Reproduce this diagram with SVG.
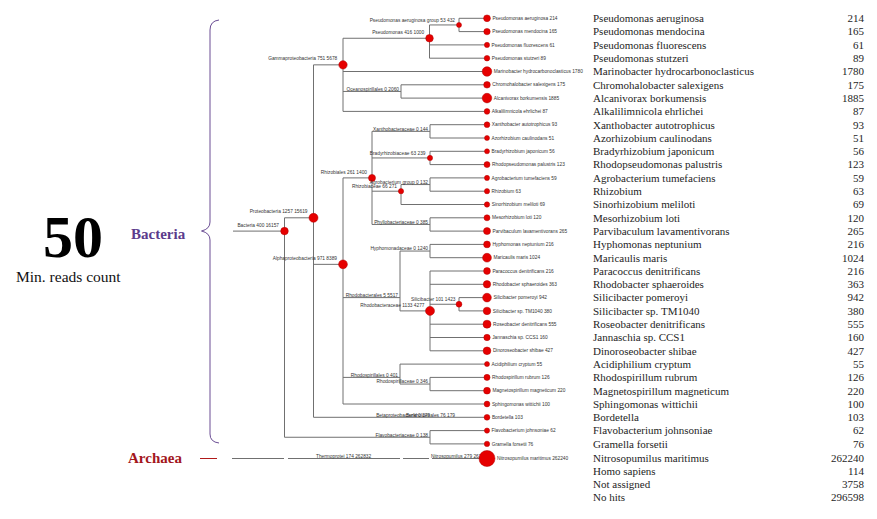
<svg xmlns="http://www.w3.org/2000/svg" width="877" height="519" viewBox="0 0 877 519">
<style>
.e{stroke:#707070;stroke-width:1;fill:none}
.n{fill:#e60000;stroke:#b00000;stroke-width:0.5}
.t{font-family:"Liberation Sans",Arial,sans-serif;font-size:4.8px;fill:#333}
.te{font-family:"Liberation Sans",Arial,sans-serif;font-size:4.8px;fill:#333;text-anchor:end}
.l{font-family:"Liberation Serif","Times New Roman",serif;font-size:11px;fill:#1e1e1e}
.c{font-family:"Liberation Serif","Times New Roman",serif;font-size:11px;fill:#1e1e1e;text-anchor:end}
</style>
<rect width="877" height="519" fill="#fff"/>
<g id="legend">
<text x="43" y="257" font-family="Liberation Serif,serif" font-weight="bold" font-size="60" fill="#000">50</text>
<text x="16" y="282" font-family="Liberation Serif,serif" font-size="15.5" fill="#111">Min. reads count</text>
<text x="131" y="239" font-family="Liberation Serif,serif" font-weight="bold" font-size="15" fill="#5b3b8c">Bacteria</text>
<text x="128" y="463" font-family="Liberation Serif,serif" font-weight="bold" font-size="15" fill="#a3161c">Archaea</text>
<path d="M219 20 Q210 21 210 30 V222 Q210 229 201.5 231 Q210 233 210 240 V434 Q210 442 219 443" fill="none" stroke="#6a4c93" stroke-width="1"/>
<line x1="200" y1="458.5" x2="217" y2="458.5" stroke="#b01a1a" stroke-width="1"/>
</g>
<g id="connectors" class="e">
<path d="M233 231.1H284.5M284.5 217.8V437.25M284.5 217.8H313.5M284.5 437.25H430M430 430.6V443.9M430 430.6H487M430 443.9H487M313.5 64.85V417.3M313.5 64.85H343M313.5 264.35H343M313.5 417.3H487M343 38.25V111.4M343 38.25H429.5M343 71.5H487M343 91.45H401M343 111.4H487M429.5 24.95V58.2M429.5 24.95H459M429.5 44.9H487M429.5 58.2H487M459 18.3V31.6M459 18.3H487M459 31.6H487M401 84.8V98.1M401 84.8H487M401 98.1H487M343 177.9V404M343 177.9H372M343 297.6H400M343 377.4H400M343 404H487M372 131.35V224.45M372 131.35H430M372 157.95H430M372 224.45H430M372 191.2H401M430 124.7V138M430 124.7H487M430 138H487M430 151.3V164.6M430 151.3H487M430 164.6H487M401 184.55V204.5M401 184.55H430M401 204.5H487M430 177.9V191.2M430 177.9H487M430 191.2H487M430 217.8V231.1M430 217.8H487M430 231.1H487M400 251.05V310.9M400 251.05H430M400 310.9H430M430 244.4V257.7M430 244.4H487M430 257.7H487M430 271V350.8M430 271H487M430 284.3H487M430 324.2H487M430 337.5H487M430 350.8H487M430 304.25H459M459 297.6V310.9M459 297.6H487M459 310.9H487M400 364.1V384.05M400 364.1H487M400 384.05H430M430 377.4V390.7M430 377.4H487M430 390.7H487"/>
<path d="M232 458.5H284M288 458.5H400M403 458.5H429M432 458.5H480"/>
</g>
<g id="n-bacteria"><circle class="n" cx="284.5" cy="231.1" r="3.8"/><text class="te" x="279" y="227">Bacteria 400 16157</text></g>
<g id="n-proteobacteria"><circle class="n" cx="313.5" cy="217.8" r="4.5"/><text class="te" x="307.5" y="213">Proteobacteria 1257 15619</text></g>
<g id="n-gamma"><circle class="n" cx="343" cy="64.85" r="4.2"/><text class="te" x="337.3" y="60.4">Gammaproteobacteria 751 5678</text></g>
<g id="n-pseudomonas"><circle class="n" cx="429.5" cy="38.25" r="3.8"/><text class="te" x="424.2" y="33.5">Pseudomonas 416 1000</text></g>
<g id="n-aeruginosa-group"><circle class="n" cx="459" cy="24.95" r="2.5"/><text class="te" x="455" y="22">Pseudomonas aeruginosa group 53 432</text></g>
<g id="n-oceanospirillales"><text class="te" x="399" y="90.8">Oceanospirillales 0 2060</text></g>
<g id="n-alpha"><circle class="n" cx="343" cy="264.35" r="4.4"/><text class="te" x="337" y="259.6">Alphaproteobacteria 971 8389</text></g>
<g id="n-rhizobiales"><circle class="n" cx="372" cy="177.9" r="3.5"/><text class="te" x="367" y="174">Rhizobiales 261 1400</text></g>
<g id="n-xanthobacteraceae"><text class="te" x="428" y="130.7">Xanthobacteraceae 0 144</text></g>
<g id="n-bradyrhizobiaceae"><circle class="n" cx="430" cy="157.95" r="2.6"/><text class="te" x="425.5" y="155">Bradyrhizobiaceae 63 239</text></g>
<g id="n-agrobacterium-group"><text class="te" x="428" y="183.9">Agrobacterium group 0 132</text></g>
<g id="n-rhizobiaceae"><circle class="n" cx="401" cy="191.2" r="2.6"/><text class="te" x="397" y="188.4">Rhizobiaceae 66 271</text></g>
<g id="n-phyllobacteriaceae"><text class="te" x="428" y="223.8">Phyllobacteriaceae 0 385</text></g>
<g id="n-rhodobacterales"><text class="te" x="398" y="296.9">Rhodobacterales 5 5517</text></g>
<g id="n-hyphomonadaceae"><text class="te" x="428" y="250.4">Hyphomonadaceae 0 1240</text></g>
<g id="n-rhodobacteraceae"><circle class="n" cx="430" cy="310.9" r="4.5"/><text class="te" x="424.5" y="306.6">Rhodobacteraceae 1133 4277</text></g>
<g id="n-silicibacter"><circle class="n" cx="459" cy="304.25" r="2.9"/><text class="te" x="455.5" y="301">Silicibacter 101 1423</text></g>
<g id="n-rhodospirillales"><text class="te" x="398" y="376.7">Rhodospirillales 0 401</text></g>
<g id="n-rhodospirillaceae"><text class="te" x="428" y="383.4">Rhodospirillaceae 0 346</text></g>
<g id="n-betaproteobacteria"><text class="te" x="430" y="416.6">Betaproteobacteria 0 179</text><text class="te" x="455" y="416.6">Burkholderiales 76 179</text></g>
<g id="n-flavobacteriaceae"><text class="te" x="428" y="436.6">Flavobacteriaceae 0 138</text></g>
<g id="n-thermoprotei"><text class="t" x="316" y="458">Thermoprotei 174 262832</text></g>
<g id="n-nitrosopumilus"><text class="t" x="431" y="458">Nitrosopumilus 279 262519</text></g>
<g id="leaves">
<g id="l0"><circle class="n" cx="487" cy="18.3" r="3.4"/><text class="t" x="492.4" y="19.9">Pseudomonas aeruginosa 214</text></g>
<g id="l1"><circle class="n" cx="487" cy="31.6" r="3.2"/><text class="t" x="492.2" y="33.2">Pseudomonas mendocina 165</text></g>
<g id="l2"><circle class="n" cx="487" cy="44.9" r="2.6"/><text class="t" x="491.6" y="46.5">Pseudomonas fluorescens 61</text></g>
<g id="l3"><circle class="n" cx="487" cy="58.2" r="2.8"/><text class="t" x="491.8" y="59.8">Pseudomonas stutzeri 89</text></g>
<g id="l4"><circle class="n" cx="487" cy="71.5" r="4.8"/><text class="t" x="493.8" y="73.1">Marinobacter hydrocarbonoclasticus 1780</text></g>
<g id="l5"><circle class="n" cx="487" cy="84.8" r="3.3"/><text class="t" x="492.3" y="86.4">Chromohalobacter salexigens 175</text></g>
<g id="l6"><circle class="n" cx="487" cy="98.1" r="4.8"/><text class="t" x="493.8" y="99.7">Alcanivorax borkumensis 1885</text></g>
<g id="l7"><circle class="n" cx="487" cy="111.4" r="2.8"/><text class="t" x="491.8" y="113">Alkalilimnicola ehrlichei 87</text></g>
<g id="l8"><circle class="n" cx="487" cy="124.7" r="2.85"/><text class="t" x="491.8" y="126.3">Xanthobacter autotrophicus 93</text></g>
<g id="l9"><circle class="n" cx="487" cy="138" r="2.5"/><text class="t" x="491.5" y="139.6">Azorhizobium caulinodans 51</text></g>
<g id="l10"><circle class="n" cx="487" cy="151.3" r="2.5"/><text class="t" x="491.5" y="152.9">Bradyrhizobium japonicum 56</text></g>
<g id="l11"><circle class="n" cx="487" cy="164.6" r="3"/><text class="t" x="492" y="166.2">Rhodopseudomonas palustris 123</text></g>
<g id="l12"><circle class="n" cx="487" cy="177.9" r="2.56"/><text class="t" x="491.6" y="179.5">Agrobacterium tumefaciens 59</text></g>
<g id="l13"><circle class="n" cx="487" cy="191.2" r="2.6"/><text class="t" x="491.6" y="192.8">Rhizobium 63</text></g>
<g id="l14"><circle class="n" cx="487" cy="204.5" r="2.66"/><text class="t" x="491.7" y="206.1">Sinorhizobium meliloti 69</text></g>
<g id="l15"><circle class="n" cx="487" cy="217.8" r="3"/><text class="t" x="492" y="219.4">Mesorhizobium loti 120</text></g>
<g id="l16"><circle class="n" cx="487" cy="231.1" r="3.5"/><text class="t" x="492.5" y="232.7">Parvibaculum lavamentivorans 265</text></g>
<g id="l17"><circle class="n" cx="487" cy="244.4" r="3.4"/><text class="t" x="492.4" y="246">Hyphomonas neptunium 216</text></g>
<g id="l18"><circle class="n" cx="487" cy="257.7" r="4.4"/><text class="t" x="493.4" y="259.3">Maricaulis maris 1024</text></g>
<g id="l19"><circle class="n" cx="487" cy="271" r="3.4"/><text class="t" x="492.4" y="272.6">Paracoccus denitrificans 216</text></g>
<g id="l20"><circle class="n" cx="487" cy="284.3" r="3.7"/><text class="t" x="492.7" y="285.9">Rhodobacter sphaeroides 363</text></g>
<g id="l21"><circle class="n" cx="487" cy="297.6" r="4.35"/><text class="t" x="493.4" y="299.2">Silicibacter pomeroyi 942</text></g>
<g id="l22"><circle class="n" cx="487" cy="310.9" r="3.75"/><text class="t" x="492.8" y="312.5">Silicibacter sp. TM1040 380</text></g>
<g id="l23"><circle class="n" cx="487" cy="324.2" r="4"/><text class="t" x="493" y="325.8">Roseobacter denitrificans 555</text></g>
<g id="l24"><circle class="n" cx="487" cy="337.5" r="3.2"/><text class="t" x="492.2" y="339.1">Jannaschia sp. CCS1 160</text></g>
<g id="l25"><circle class="n" cx="487" cy="350.8" r="3.85"/><text class="t" x="492.9" y="352.4">Dinoroseobacter shibae 427</text></g>
<g id="l26"><circle class="n" cx="487" cy="364.1" r="2.5"/><text class="t" x="491.5" y="365.7">Acidiphilium cryptum 55</text></g>
<g id="l27"><circle class="n" cx="487" cy="377.4" r="3.05"/><text class="t" x="492" y="379">Rhodospirillum rubrum 126</text></g>
<g id="l28"><circle class="n" cx="487" cy="390.7" r="3.4"/><text class="t" x="492.4" y="392.3">Magnetospirillum magneticum 220</text></g>
<g id="l29"><circle class="n" cx="487" cy="404" r="2.9"/><text class="t" x="491.9" y="405.6">Sphingomonas wittichii 100</text></g>
<g id="l30"><circle class="n" cx="487" cy="417.3" r="2.9"/><text class="t" x="491.9" y="418.9">Bordetella 103</text></g>
<g id="l31"><circle class="n" cx="487" cy="430.6" r="2.6"/><text class="t" x="491.6" y="432.2">Flavobacterium johnsoniae 62</text></g>
<g id="l32"><circle class="n" cx="487" cy="443.9" r="2.7"/><text class="t" x="491.7" y="445.5">Gramella forsetii 76</text></g>
<g id="l33"><circle class="n" cx="487" cy="458.5" r="8"/><text class="t" x="497" y="460.1">Nitrosopumilus maritimus 262240</text></g>
</g>
<g id="list">
<text class="l" x="593" y="22.1">Pseudomonas aeruginosa</text><text class="c" x="864" y="22.1">214</text>
<text class="l" x="593" y="35.4">Pseudomonas mendocina</text><text class="c" x="864" y="35.4">165</text>
<text class="l" x="593" y="48.7">Pseudomonas fluorescens</text><text class="c" x="864" y="48.7">61</text>
<text class="l" x="593" y="62">Pseudomonas stutzeri</text><text class="c" x="864" y="62">89</text>
<text class="l" x="593" y="75.3">Marinobacter hydrocarbonoclasticus</text><text class="c" x="864" y="75.3">1780</text>
<text class="l" x="593" y="88.6">Chromohalobacter salexigens</text><text class="c" x="864" y="88.6">175</text>
<text class="l" x="593" y="101.9">Alcanivorax borkumensis</text><text class="c" x="864" y="101.9">1885</text>
<text class="l" x="593" y="115.2">Alkalilimnicola ehrlichei</text><text class="c" x="864" y="115.2">87</text>
<text class="l" x="593" y="128.5">Xanthobacter autotrophicus</text><text class="c" x="864" y="128.5">93</text>
<text class="l" x="593" y="141.8">Azorhizobium caulinodans</text><text class="c" x="864" y="141.8">51</text>
<text class="l" x="593" y="155.1">Bradyrhizobium japonicum</text><text class="c" x="864" y="155.1">56</text>
<text class="l" x="593" y="168.4">Rhodopseudomonas palustris</text><text class="c" x="864" y="168.4">123</text>
<text class="l" x="593" y="181.7">Agrobacterium tumefaciens</text><text class="c" x="864" y="181.7">59</text>
<text class="l" x="593" y="195">Rhizobium</text><text class="c" x="864" y="195">63</text>
<text class="l" x="593" y="208.3">Sinorhizobium meliloti</text><text class="c" x="864" y="208.3">69</text>
<text class="l" x="593" y="221.6">Mesorhizobium loti</text><text class="c" x="864" y="221.6">120</text>
<text class="l" x="593" y="234.9">Parvibaculum lavamentivorans</text><text class="c" x="864" y="234.9">265</text>
<text class="l" x="593" y="248.2">Hyphomonas neptunium</text><text class="c" x="864" y="248.2">216</text>
<text class="l" x="593" y="261.5">Maricaulis maris</text><text class="c" x="864" y="261.5">1024</text>
<text class="l" x="593" y="274.8">Paracoccus denitrificans</text><text class="c" x="864" y="274.8">216</text>
<text class="l" x="593" y="288.1">Rhodobacter sphaeroides</text><text class="c" x="864" y="288.1">363</text>
<text class="l" x="593" y="301.4">Silicibacter pomeroyi</text><text class="c" x="864" y="301.4">942</text>
<text class="l" x="593" y="314.7">Silicibacter sp. TM1040</text><text class="c" x="864" y="314.7">380</text>
<text class="l" x="593" y="328">Roseobacter denitrificans</text><text class="c" x="864" y="328">555</text>
<text class="l" x="593" y="341.3">Jannaschia sp. CCS1</text><text class="c" x="864" y="341.3">160</text>
<text class="l" x="593" y="354.6">Dinoroseobacter shibae</text><text class="c" x="864" y="354.6">427</text>
<text class="l" x="593" y="367.9">Acidiphilium cryptum</text><text class="c" x="864" y="367.9">55</text>
<text class="l" x="593" y="381.2">Rhodospirillum rubrum</text><text class="c" x="864" y="381.2">126</text>
<text class="l" x="593" y="394.5">Magnetospirillum magneticum</text><text class="c" x="864" y="394.5">220</text>
<text class="l" x="593" y="407.8">Sphingomonas wittichii</text><text class="c" x="864" y="407.8">100</text>
<text class="l" x="593" y="421.1">Bordetella</text><text class="c" x="864" y="421.1">103</text>
<text class="l" x="593" y="434.4">Flavobacterium johnsoniae</text><text class="c" x="864" y="434.4">62</text>
<text class="l" x="593" y="447.7">Gramella forsetii</text><text class="c" x="864" y="447.7">76</text>
<text class="l" x="593" y="461.5">Nitrosopumilus maritimus</text><text class="c" x="864" y="461.5">262240</text>
<text class="l" x="593" y="474.5">Homo sapiens</text><text class="c" x="864" y="474.5">114</text>
<text class="l" x="593" y="487.8">Not assigned</text><text class="c" x="864" y="487.8">3758</text>
<text class="l" x="593" y="501.1">No hits</text><text class="c" x="864" y="501.1">296598</text>
</g>
</svg>
